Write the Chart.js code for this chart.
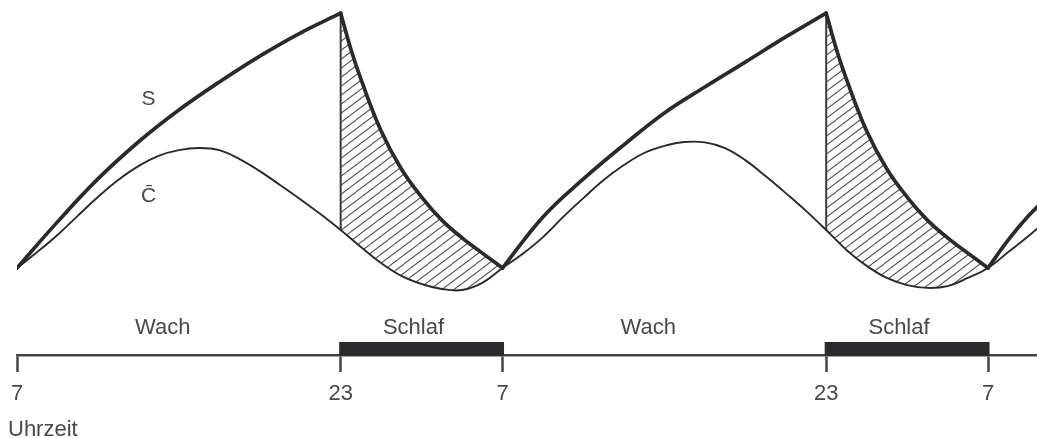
<!DOCTYPE html>
<html>
<head>
<meta charset="utf-8">
<title>Zwei-Prozess-Modell</title>
<script src="https://cdn.jsdelivr.net/npm/chart.js@4/dist/chart.umd.min.js"></script>
<style>
  html, body { margin: 0; padding: 0; background: #fff; }
  #wrap { width: 1037px; height: 438px; }
</style>
</head>
<body>
<div id="wrap"><canvas id="chart" width="1037" height="438"></canvas></div>
<script>
// hours are counted from 7:00 on the first morning
const tickHours = [0, 16, 24, 40, 48];
const tickLabels = ['7', '23', '7', '23', '7'];

const sleepStart = [16, 40];
const sleepEnd = [24, 48];

const phaseLabels = ['Wach', 'Schlaf', 'Wach', 'Schlaf'];
const phaseLabelHours = [7.2, 19.6, 31.2, 43.6];

// process S: rising while awake, falling during sleep
const sWake1Hours = [0, 2, 4, 6, 8, 10, 12, 14, 16];
const sWake1 = [24.5, 37.5, 49.6, 60.0, 69.0, 76.9, 84.2, 90.7, 96.3];
const sSleep1Hours = [16, 16.5, 17, 18, 19, 20, 21, 22, 23, 24];
const sSleep1 = [96.3, 86.2, 77.7, 63.1, 52.4, 44.5, 38.0, 33.0, 28.7, 24.5];
const sWake2Hours = [24, 26, 28, 30, 32, 34, 36, 38, 40];
const sWake2 = [24.5, 38.9, 49.6, 59.2, 68.2, 75.5, 82.5, 89.6, 96.3];
const sSleep2Hours = [40, 40.5, 41, 42, 43, 44, 45, 46, 47, 48];
const sSleep2 = [96.3, 86.2, 77.7, 63.1, 52.4, 44.5, 38.0, 33.0, 28.7, 24.5];
const sWake3Hours = [48, 49, 50, 51, 52];
const sWake3 = [24.5, 32.4, 39.2, 44.8, 49.9];

// circadian process C, one value per hour (0 ... 52)
const cHours = [0, 1, 2, 3, 4, 5, 6, 7, 8, 9, 10, 11, 12, 13, 14, 15, 16, 17, 18, 19, 20, 21, 22, 23, 24,
  25, 26, 27, 28, 29, 30, 31, 32, 33, 34, 35, 36, 37, 38, 39, 40, 41, 42, 43, 44, 45, 46, 47, 48,
  49, 50, 51, 52];
const cValues = [24.5, 29.0, 33.8, 39.2, 44.5, 49.3, 53.2, 56.1, 57.7, 58.3, 57.7, 55.2, 51.8, 47.9, 43.9, 39.7,
  35.2, 30.4, 25.9, 22.3, 20.0, 18.6, 18.3, 20.3, 24.5,
  28.5, 33.2, 38.9, 44.2, 49.3, 53.5, 56.9, 58.9, 60.0, 59.9, 58.3, 54.9, 50.4, 45.6, 40.6,
  35.2, 29.6, 25.1, 21.7, 19.7, 18.9, 19.4, 21.7, 24.5,
  29.0, 33.5, 38.6, 44.2];

const FONT = '"Liberation Sans", Arial, Helvetica, sans-serif';
const INK = '#2a2a2a';
const TEXT = '#484848';

function pts(hours, vals) {
  return hours.map((h, i) => ({ x: h, y: vals[i] }));
}

function hatchPattern() {
  const w = 12, h = 9;
  const c = document.createElement('canvas');
  c.width = w;
  c.height = h;
  const g = c.getContext('2d');
  g.strokeStyle = '#555';
  g.lineWidth = 1.1;
  g.beginPath();
  for (let k = -1; k <= 1; k++) {
    g.moveTo(-1, h + k * h + h / w);
    g.lineTo(w + 1, k * h - h / w);
  }
  g.stroke();
  return g.createPattern(c, 'repeat');
}

const hatch = hatchPattern();

function sLine(data, fill) {
  return {
    data: data,
    borderColor: INK,
    borderWidth: 3.7,
    borderCapStyle: 'round',
    borderJoinStyle: 'round',
    pointRadius: 0,
    tension: 0.4,
    fill: fill ? { target: 0 } : false,
    backgroundColor: fill ? hatch : 'transparent'
  };
}

function cAt(h) {
  return cValues[cHours.indexOf(h)];
}

const datasets = [
  {
    data: pts(cHours, cValues),
    borderColor: INK,
    borderWidth: 1.9,
    pointRadius: 0,
    tension: 0.4,
    fill: false
  },
  sLine(pts(sWake1Hours, sWake1), false),
  sLine(pts(sSleep1Hours, sSleep1), true),
  sLine(pts(sWake2Hours, sWake2), false),
  sLine(pts(sSleep2Hours, sSleep2), true),
  sLine(pts(sWake3Hours, sWake3), false)
];

// vertical edge of the hatched area at bedtime
[[sleepStart[0], sSleep1[0]], [sleepStart[1], sSleep2[0]]].forEach(([h, top]) => {
  datasets.push({
    data: [{ x: h, y: top }, { x: h, y: cAt(h) }],
    borderColor: '#3a3a3a',
    borderWidth: 2,
    pointRadius: 0,
    fill: false
  });
});

const overlay = {
  id: 'overlay',
  afterDatasetsDraw(chart) {
    const { ctx, scales: { x, y } } = chart;
    ctx.save();
    ctx.fillStyle = TEXT;
    ctx.font = '21px ' + FONT;
    ctx.textAlign = 'center';
    ctx.textBaseline = 'middle';
    ctx.fillText('S', x.getPixelForValue(6.5), y.getPixelForValue(72.1));
    ctx.fillText('C\u0304', x.getPixelForValue(6.5), y.getPixelForValue(44.6));
    ctx.restore();
  },
  afterDraw(chart) {
    const { ctx, scales: { x }, chartArea } = chart;
    const axisY = chartArea.bottom;
    ctx.save();
    ctx.fillStyle = '#2b2b2e';
    sleepStart.forEach((h, i) => {
      const x0 = x.getPixelForValue(h) - 1.5;
      const x1 = x.getPixelForValue(sleepEnd[i]) + 1.5;
      ctx.fillRect(x0, axisY - 13, x1 - x0, 14);
    });
    ctx.fillStyle = TEXT;
    ctx.font = '22px ' + FONT;
    ctx.textAlign = 'center';
    ctx.textBaseline = 'middle';
    phaseLabels.forEach((t, i) => {
      ctx.fillText(t, x.getPixelForValue(phaseLabelHours[i]), axisY - 27);
    });
    ctx.textAlign = 'left';
    ctx.fillText('Uhrzeit', 8, axisY + 75);
    ctx.restore();
  }
};

new Chart(document.getElementById('chart'), {
  type: 'line',
  data: { datasets: datasets },
  options: {
    responsive: false,
    animation: false,
    layout: { padding: { left: 17, right: 0, top: 0, bottom: 0 } },
    plugins: {
      legend: { display: false },
      tooltip: { enabled: false },
      filler: { propagate: false }
    },
    scales: {
      x: {
        type: 'linear',
        min: 0,
        max: 50.42,
        afterBuildTicks: s => { s.ticks = tickHours.map(v => ({ value: v })); },
        afterFit: s => { s.height = 83; },
        grid: { drawOnChartArea: false, drawTicks: true, tickLength: 17, tickWidth: 2.5, tickColor: '#444' },
        border: { display: true, color: '#444', width: 2.5 },
        ticks: {
          autoSkip: false,
          maxRotation: 0,
          padding: 9,
          color: TEXT,
          font: { size: 22, family: FONT },
          callback: (v, i) => tickLabels[i]
        }
      },
      y: {
        display: false,
        min: 0,
        max: 100
      }
    }
  },
  plugins: [overlay]
});
</script>
</body>
</html>
